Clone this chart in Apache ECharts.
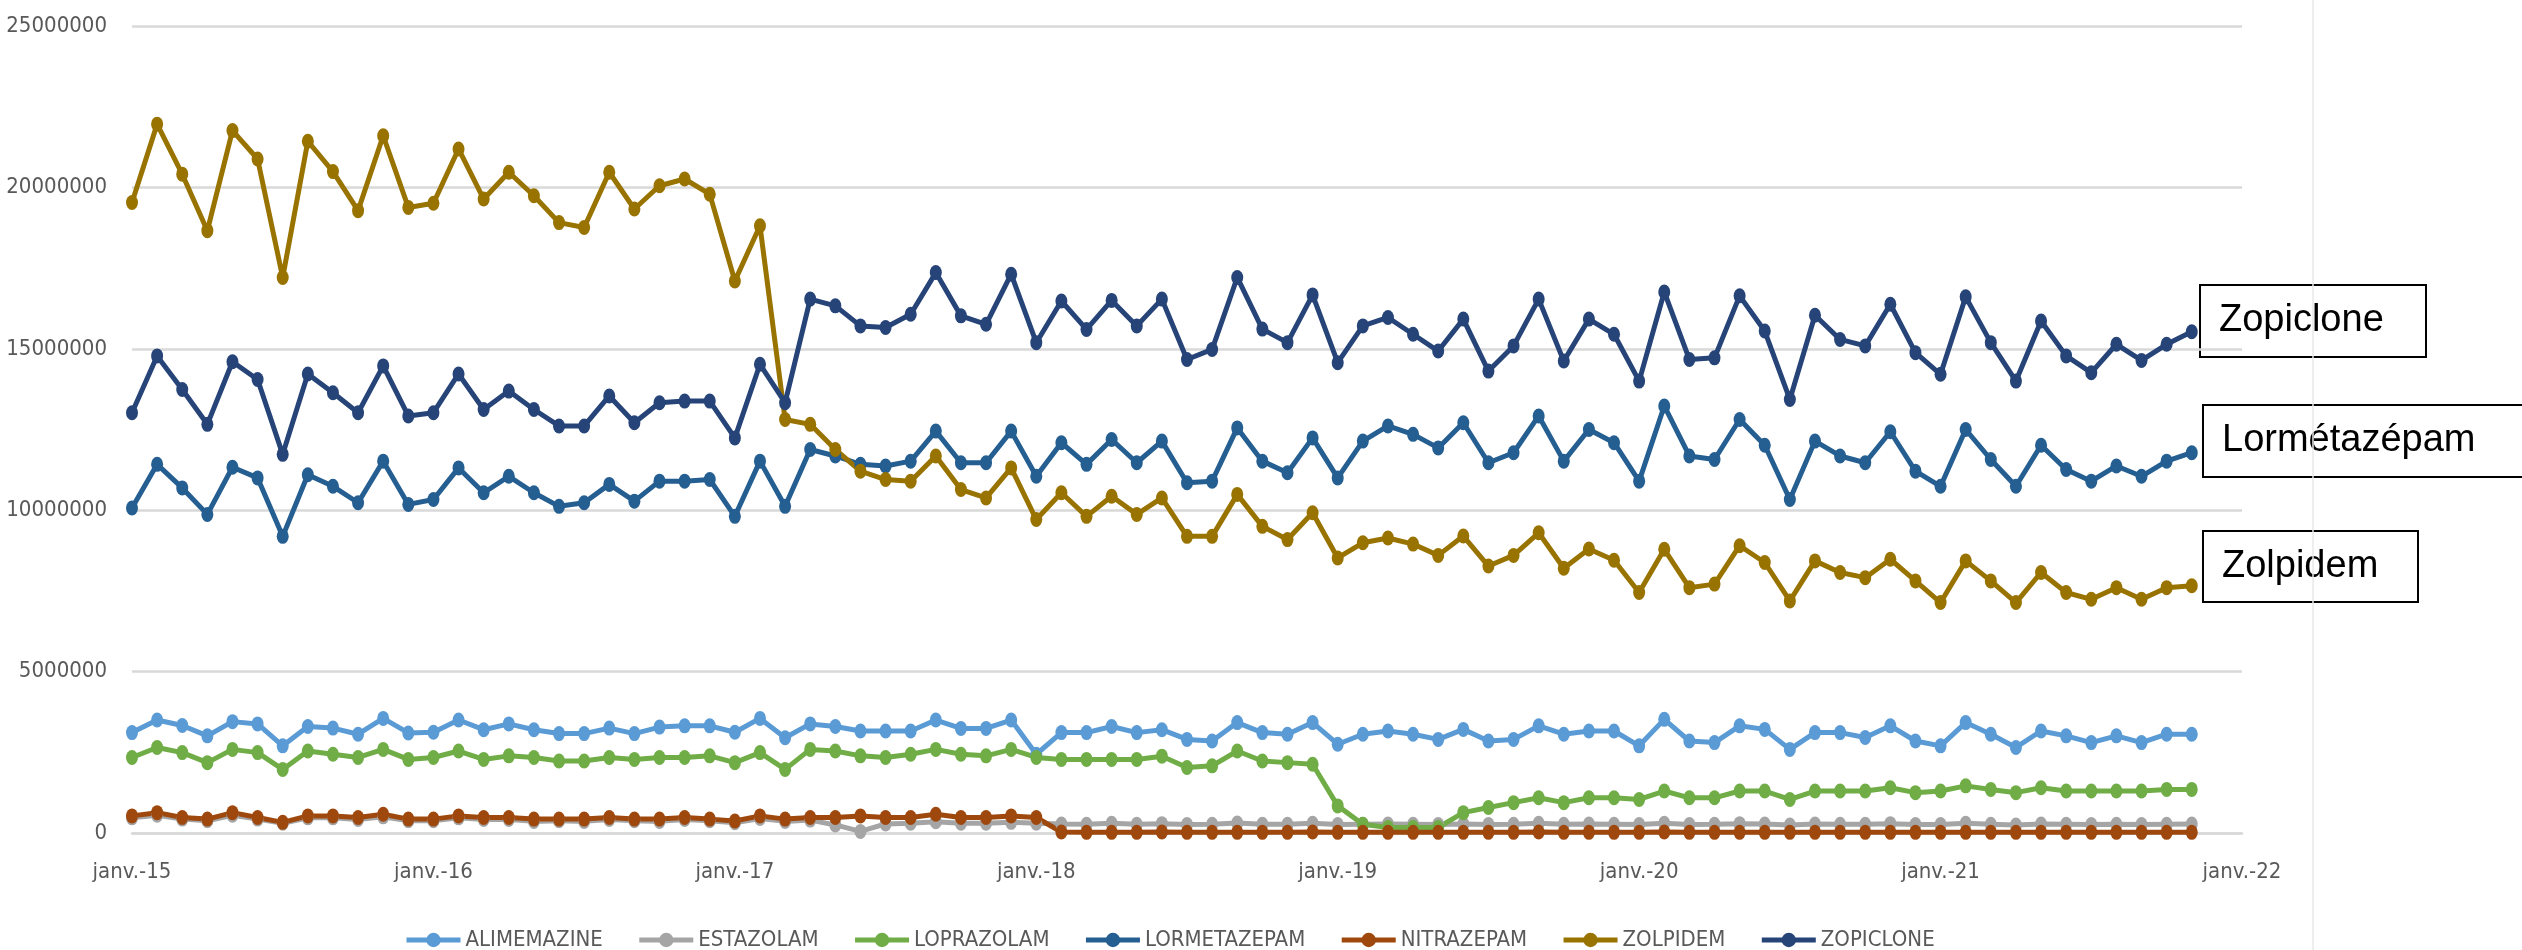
<!DOCTYPE html>
<html>
<head>
<meta charset="utf-8">
<title>Hypnotiques - consommation mensuelle</title>
<script src="https://cdn.jsdelivr.net/npm/echarts@6/dist/echarts.min.js"></script>
<style>
  html, body { margin: 0; padding: 0; background: #fff; }
  #chart { width: 2522px; height: 950px; }
</style>
</head>
<body>
<div id="chart"></div>
<script>
// mois janv.-15 .. janv.-22 (85 positions, 83 points de données)
const monthNames = ['janv.', 'févr.', 'mars', 'avr.', 'mai', 'juin', 'juil.', 'août', 'sept.', 'oct.', 'nov.', 'déc.'];
const years = ['15', '16', '17', '18', '19', '20', '21', '22'];
const categories = [];
years.forEach(y => monthNames.forEach(m => {
  if (categories.length < 85) categories.push(m + '-' + y);
}));

const yTicks = { min: 0, max: 25000000, interval: 5000000 };
const UNIT = 1e6; // valeurs saisies en millions

const alimemazine = [3.11, 3.50, 3.33, 3.01, 3.45, 3.38, 2.70, 3.30, 3.25, 3.06, 3.55, 3.10,
  3.12, 3.50, 3.20, 3.38, 3.20, 3.08, 3.08, 3.25, 3.08, 3.28, 3.32, 3.32,
  3.12, 3.55, 2.95, 3.38, 3.30, 3.16, 3.16, 3.16, 3.50, 3.24, 3.24, 3.50,
  2.44, 3.11, 3.11, 3.30, 3.11, 3.20, 2.90, 2.85, 3.42, 3.11, 3.06, 3.42,
  2.75, 3.06, 3.16, 3.06, 2.90, 3.21, 2.85, 2.90, 3.32, 3.06, 3.16, 3.16,
  2.70, 3.52, 2.85, 2.80, 3.32, 3.21, 2.59, 3.11, 3.11, 2.96, 3.32, 2.85,
  2.70, 3.42, 3.06, 2.65, 3.16, 3.01, 2.80, 3.01, 2.80, 3.06, 3.06];

const estazolam = [0.47, 0.55, 0.43, 0.38, 0.55, 0.43, 0.30, 0.47, 0.47, 0.42, 0.50, 0.38,
  0.38, 0.47, 0.42, 0.42, 0.36, 0.38, 0.36, 0.42, 0.38, 0.36, 0.42, 0.38,
  0.32, 0.45, 0.36, 0.40, 0.25, 0.05, 0.28, 0.30, 0.35, 0.30, 0.30, 0.33,
  0.30, 0.28, 0.27, 0.30, 0.27, 0.29, 0.26, 0.27, 0.31, 0.27, 0.27, 0.30,
  0.26, 0.27, 0.28, 0.27, 0.26, 0.28, 0.26, 0.27, 0.30, 0.27, 0.28, 0.27,
  0.26, 0.30, 0.26, 0.27, 0.29, 0.28, 0.25, 0.28, 0.27, 0.27, 0.29, 0.26,
  0.26, 0.30, 0.27, 0.25, 0.28, 0.27, 0.26, 0.27, 0.26, 0.27, 0.28];

const loprazolam = [2.34, 2.65, 2.49, 2.18, 2.59, 2.49, 1.97, 2.54, 2.44, 2.34, 2.59, 2.28,
  2.34, 2.54, 2.28, 2.39, 2.34, 2.23, 2.23, 2.34, 2.28, 2.34, 2.34, 2.39,
  2.18, 2.49, 1.97, 2.59, 2.54, 2.39, 2.34, 2.44, 2.59, 2.44, 2.39, 2.59,
  2.34, 2.28, 2.28, 2.28, 2.28, 2.38, 2.03, 2.08, 2.54, 2.23, 2.18, 2.13,
  0.84, 0.27, 0.17, 0.17, 0.17, 0.63, 0.79, 0.94, 1.09, 0.94, 1.09, 1.09,
  1.04, 1.30, 1.09, 1.09, 1.30, 1.30, 1.04, 1.30, 1.30, 1.30, 1.40, 1.25,
  1.30, 1.46, 1.35, 1.25, 1.40, 1.30, 1.30, 1.30, 1.30, 1.35, 1.35];

const lormetazepam = [10.07, 11.42, 10.69, 9.87, 11.33, 11.00, 9.19, 11.10, 10.74, 10.23, 11.52, 10.18,
  10.33, 11.31, 10.54, 11.05, 10.54, 10.12, 10.23, 10.80, 10.28, 10.90, 10.90, 10.95,
  9.81, 11.52, 10.12, 11.88, 11.68, 11.42, 11.37, 11.52, 12.45, 11.47, 11.47, 12.45,
  11.05, 12.09, 11.42, 12.19, 11.47, 12.14, 10.85, 10.90, 12.55, 11.52, 11.16, 12.24,
  11.00, 12.14, 12.61, 12.35, 11.93, 12.71, 11.47, 11.78, 12.92, 11.52, 12.50, 12.09,
  10.90, 13.23, 11.68, 11.57, 12.81, 12.01, 10.33, 12.14, 11.68, 11.47, 12.43, 11.21,
  10.74, 12.50, 11.57, 10.74, 12.01, 11.26, 10.90, 11.37, 11.05, 11.52, 11.78];

const nitrazepam = [0.53, 0.63, 0.48, 0.43, 0.63, 0.48, 0.33, 0.53, 0.53, 0.48, 0.58, 0.43,
  0.43, 0.53, 0.48, 0.48, 0.43, 0.43, 0.43, 0.48, 0.43, 0.43, 0.48, 0.43,
  0.37, 0.53, 0.43, 0.48, 0.48, 0.53, 0.48, 0.48, 0.58, 0.48, 0.48, 0.53,
  0.48, 0.03, 0.02, 0.02, 0.02, 0.03, 0.02, 0.02, 0.02, 0.02, 0.02, 0.03,
  0.02, 0.02, 0.02, 0.02, 0.02, 0.02, 0.02, 0.02, 0.03, 0.02, 0.02, 0.02,
  0.02, 0.03, 0.02, 0.02, 0.02, 0.02, 0.02, 0.02, 0.02, 0.02, 0.02, 0.02,
  0.02, 0.02, 0.02, 0.02, 0.02, 0.02, 0.02, 0.02, 0.02, 0.02, 0.02];

const zolpidem = [19.53, 21.96, 20.41, 18.66, 21.76, 20.88, 17.21, 21.43, 20.49, 19.28, 21.60, 19.38,
  19.51, 21.19, 19.64, 20.47, 19.74, 18.91, 18.76, 20.47, 19.33, 20.05, 20.26, 19.79,
  17.10, 18.81, 12.81, 12.66, 11.88, 11.21, 10.95, 10.90, 11.68, 10.64, 10.38, 11.31,
  9.71, 10.54, 9.81, 10.43, 9.87, 10.38, 9.19, 9.19, 10.49, 9.50, 9.09, 9.92,
  8.52, 8.99, 9.14, 8.95, 8.60, 9.20, 8.27, 8.60, 9.30, 8.20, 8.80, 8.45,
  7.45, 8.79, 7.60, 7.71, 8.90, 8.38, 7.19, 8.43, 8.07, 7.91, 8.48, 7.81,
  7.14, 8.43, 7.81, 7.14, 8.07, 7.45, 7.24, 7.60, 7.24, 7.60, 7.66];

const zopiclone = [13.02, 14.78, 13.74, 12.66, 14.60, 14.05, 11.73, 14.22, 13.64, 13.02, 14.47, 12.92,
  13.02, 14.22, 13.12, 13.69, 13.12, 12.61, 12.61, 13.54, 12.71, 13.33, 13.38, 13.38,
  12.24, 14.52, 13.33, 16.54, 16.33, 15.71, 15.66, 16.07, 17.36, 16.02, 15.76, 17.31,
  15.19, 16.48, 15.60, 16.50, 15.71, 16.54, 14.67, 14.98, 17.21, 15.61, 15.19, 16.67,
  14.57, 15.71, 15.97, 15.45, 14.93, 15.92, 14.31, 15.09, 16.54, 14.62, 15.92, 15.45,
  14.00, 16.76, 14.67, 14.72, 16.64, 15.55, 13.43, 16.04, 15.29, 15.09, 16.38, 14.88,
  14.21, 16.61, 15.19, 14.00, 15.86, 14.78, 14.26, 15.14, 14.64, 15.14, 15.53];

const seriesList = [
  { name: 'ALIMEMAZINE', values: alimemazine, color: '#5B9BD5' },
  { name: 'ESTAZOLAM', values: estazolam, color: '#A5A5A5' },
  { name: 'LOPRAZOLAM', values: loprazolam, color: '#70AD47' },
  { name: 'LORMETAZEPAM', values: lormetazepam, color: '#255E91' },
  { name: 'NITRAZEPAM', values: nitrazepam, color: '#9E480E' },
  { name: 'ZOLPIDEM', values: zolpidem, color: '#997300' },
  { name: 'ZOPICLONE', values: zopiclone, color: '#264478' }
];

const NARROW = '"Liberation Sans Narrow", "DejaVu Sans Condensed", sans-serif';
const GRID = '#d9d9d9';

// étiquette encadrée à droite du graphique
const box = (x, y, w, h, label) => ({
  type: 'group', x, y, z: 10,
  children: [
    { type: 'rect', shape: { x: 0, y: 0, width: w, height: h },
      style: { fill: '#fff', stroke: '#000', lineWidth: 2 } },
    { type: 'text', x: 19, y: h / 2,
      style: { text: label, font: '38px "Liberation Sans", Arial, sans-serif', fill: '#000', verticalAlign: 'middle' } }
  ]
});

const myChart = echarts.init(document.getElementById('chart'));

const option = {
  animation: false,
  backgroundColor: '#fff',
  grid: { left: 132, top: 26, width: 2110, height: 807 },
  xAxis: {
    type: 'category',
    data: categories,
    boundaryGap: false,
    axisLine: { show: true, lineStyle: { color: GRID, width: 2.5 } },
    axisTick: { show: false },
    splitLine: { show: false },
    axisLabel: { interval: 11, fontFamily: NARROW, fontSize: 22, color: '#595959', margin: 28 }
  },
  yAxis: {
    type: 'value',
    min: yTicks.min,
    max: yTicks.max,
    interval: yTicks.interval,
    axisLine: { show: false },
    axisTick: { show: false },
    splitLine: { lineStyle: { color: GRID, width: 2.5 } },
    axisLabel: { formatter: v => String(v), fontFamily: NARROW, fontSize: 22, color: '#595959', margin: 25 }
  },
  legend: {
    left: 399,
    top: 924,
    itemWidth: 54,
    itemHeight: 18,
    itemGap: 34,
    lineStyle: { width: 5 },
    textStyle: { fontFamily: NARROW, fontSize: 22, color: '#595959' },
    data: seriesList.map(s => s.name)
  },
  series: seriesList.map(s => ({
    name: s.name,
    type: 'line',
    data: s.values.map(v => Math.round(v * UNIT)),
    symbol: 'circle',
    symbolSize: [12, 15],
    showAllSymbol: true,
    lineStyle: { width: 5, color: s.color },
    itemStyle: { color: s.color },
    emphasis: { disabled: true }
  })),
  graphic: [
    { type: 'line', shape: { x1: 2313, y1: 0, x2: 2313, y2: 950 },
      style: { stroke: '#e8e8e8', lineWidth: 1.5 }, z: 1 },
    box(2200, 285, 226, 72, 'Zopiclone'),
    box(2203, 405, 340, 72, 'Lormétazépam'),
    box(2203, 531, 215, 71, 'Zolpidem')
  ]
};

myChart.setOption(option, true);
</script>
</body>
</html>
